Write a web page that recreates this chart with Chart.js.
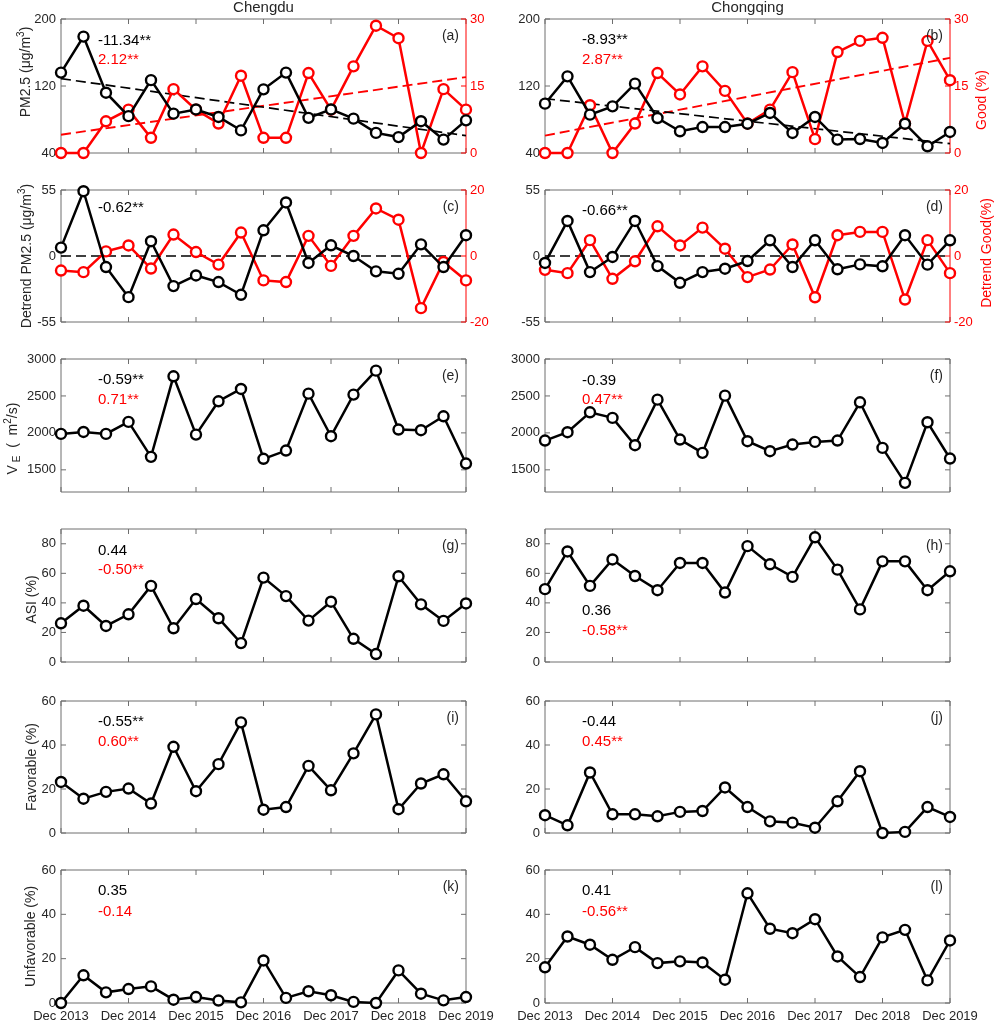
<!DOCTYPE html>
<html>
<head>
<meta charset="utf-8">
<title>Chengdu / Chongqing winter PM2.5</title>
<script src="https://cdn.jsdelivr.net/npm/chart.js@4.4.0/dist/chart.umd.min.js"></script>
<style>
  html, body { margin: 0; padding: 0; background: #fff; overflow: hidden; }
  #wrap { position: relative; width: 996px; height: 1023px; }
  #wrap canvas { position: absolute; }
</style>
</head>
<body>
<div id="wrap"></div>
<script>
// winter months (DJF), Dec 2013 .. Dec 2019
const months = ['Dec 2013', 'Jan 2014', 'Feb 2014', 'Dec 2014', 'Jan 2015', 'Feb 2015',
  'Dec 2015', 'Jan 2016', 'Feb 2016', 'Dec 2016', 'Jan 2017', 'Feb 2017',
  'Dec 2017', 'Jan 2018', 'Feb 2018', 'Dec 2018', 'Jan 2019', 'Feb 2019', 'Dec 2019'];

// Chengdu
const cdPm25 = [136, 179, 112, 84, 127, 87, 92, 83, 67, 116, 136, 82, 92, 81, 64, 59, 78, 56, 79];
const cdGood = [0, 0, 7.1, 9.7, 3.4, 14.3, 9.7, 6.6, 17.3, 3.4, 3.4, 17.9, 9.7, 19.4, 28.5, 25.7, 0, 14.3, 9.7];
const cdPmTrend = [128.8, 60.7];   // first / last month
const cdGoodTrend = [4.1, 17.0];
const cdDetPm = [7.0, 54.0, -9.2, -34.3, 12.3, -25.1, -16.2, -21.7, -32.3, 21.4, 44.6, -5.8, 8.9, 0, -12.8, -14.8, 9.7, -9.2, 17.3];
const cdDetGood = [-4.4, -4.9, 1.4, 3.2, -3.8, 6.5, 1.2, -2.6, 7.1, -7.4, -7.9, 6.1, -3.0, 6.1, 14.4, 11.0, -15.8, -1.8, -7.4];
const cdVe = [1986, 2013, 1986, 2149, 1676, 2766, 1977, 2428, 2595, 1649, 1761, 2531, 1955, 2518, 2842, 2045, 2036, 2225, 1585];
const cdAsi = [26.2, 38.1, 24.4, 32.3, 51.5, 22.8, 42.6, 29.6, 12.8, 57.1, 44.6, 28.0, 40.8, 15.7, 5.4, 58.0, 39.0, 27.8, 39.6];
const cdFav = [23.2, 15.6, 18.7, 20.2, 13.4, 39.2, 19.0, 31.3, 50.3, 10.6, 11.8, 30.5, 19.4, 36.2, 53.9, 10.8, 22.5, 26.7, 14.4];
const cdUnfav = [0, 12.5, 4.8, 6.3, 7.5, 1.5, 2.7, 1.1, 0.3, 19.2, 2.3, 5.3, 3.5, 0.5, 0, 14.7, 4.2, 1.2, 2.7];

// Chongqing
const cqPm25 = [98.9, 131.5, 85.8, 95.7, 122.8, 81.8, 65.9, 71.0, 71.0, 75.0, 87.8, 63.9, 83.0, 56.0, 56.7, 52.0, 75.0, 48.0, 65.1];
const cqGood = [0, 0, 10.7, 0, 6.6, 17.9, 13.1, 19.4, 13.9, 6.6, 9.7, 18.1, 3.1, 22.6, 25.1, 25.8, 6.6, 25.1, 16.3];
const cqPmTrend = [104.9, 51.1];
const cqGoodTrend = [3.9, 21.3];
const cqDetPm = [-5.8, 29.2, -13.4, -0.8, 29.2, -8.4, -22.3, -13.4, -10.6, -4.2, 13.1, -9.2, 13.1, -11.1, -7.0, -8.6, 17.3, -7.2, 13.1];
const cqDetGood = [-4.2, -5.2, 4.8, -6.9, -1.6, 9.0, 3.2, 8.6, 2.2, -6.4, -4.1, 3.5, -12.5, 6.3, 7.3, 7.3, -13.2, 4.8, -5.2];
const cqVe = [1896, 2009, 2279, 2203, 1833, 2450, 1910, 1730, 2504, 1887, 1752, 1842, 1878, 1896, 2414, 1797, 1324, 2144, 1653];
const cqAsi = [49.3, 74.8, 51.5, 69.4, 58.2, 48.6, 67.0, 67.0, 47.0, 78.4, 66.1, 57.6, 84.4, 62.5, 35.6, 68.1, 68.1, 48.6, 61.4];
const cqFav = [8.1, 3.5, 27.5, 8.5, 8.5, 7.6, 9.6, 10.0, 20.7, 11.8, 5.3, 4.7, 2.4, 14.4, 28.1, 0, 0.5, 11.8, 7.3];
const cqUnfav = [16.1, 30.0, 26.3, 19.5, 25.2, 18.0, 18.8, 18.3, 10.5, 49.5, 33.5, 31.5, 37.8, 21.0, 11.7, 29.6, 33.0, 10.2, 28.2];

const zeroLine = [0, 0];

// tick labels
const pmTicks = [40, 120, 200];
const goodTicks = [0, 15, 30];
const detPmTicks = [-55, 0, 55];
const detGoodTicks = [-20, 0, 20];
const veTicks = [1500, 2000, 2500, 3000];
const asiTicks = [0, 20, 40, 60, 80];
const pctTicks = [0, 20, 40, 60];

const BLACK = '#000000', RED = '#ff0000', AXIS = '#6e6e6e', TEXT = '#262626';
const FONT = '"Liberation Sans", Arial, Helvetica, sans-serif';

Chart.defaults.font.family = FONT;
Chart.defaults.font.size = 13;
Chart.defaults.color = TEXT;

// plot boxes in page pixels
const cols = [
  { left: 61, right: 466, canvasLeft: 0, canvasW: 506 },
  { left: 545, right: 950, canvasLeft: 480, canvasW: 516 }
];
const rows = [
  { top: 19, bottom: 153 }, { top: 190, bottom: 322 }, { top: 359, bottom: 492 },
  { top: 529, bottom: 662 }, { top: 701, bottom: 833 }, { top: 870, bottom: 1003 }
];
const PAD_TOP = 18, PAD_BOTTOM = 20, TICK = 5;

const pmTitle = [{ t: 'PM2.5 (\u03bcg/m' }, { t: '3', sup: true }, { t: ')' }];
const detPmTitle = [{ t: 'Detrend PM2.5 (\u03bcg/m' }, { t: '3', sup: true }, { t: ')' }];
const veTitle = [{ t: 'V' }, { t: ' E', sub: true }, { t: '  (  m' }, { t: '2', sup: true }, { t: '/s)' }];

const panels = [
  { letter: 'a', col: 0, row: 0, title: 'Chengdu',
    lines: [[cdPm25, BLACK, 'y'], [cdGood, RED, 'y2']],
    trends: [[cdPmTrend, BLACK, 'y'], [cdGoodTrend, RED, 'y2']],
    y: [40, 200, pmTicks], y2: [0, 30, goodTicks],
    stats: [['-11.34**', BLACK, 22], ['2.12**', RED, 41]],
    yTitle: { parts: pmTitle, x: 26, dy: -14 } },
  { letter: 'b', col: 1, row: 0, title: 'Chongqing',
    lines: [[cqPm25, BLACK, 'y'], [cqGood, RED, 'y2']],
    trends: [[cqPmTrend, BLACK, 'y'], [cqGoodTrend, RED, 'y2']],
    y: [40, 200, pmTicks], y2: [0, 30, goodTicks],
    stats: [['-8.93**', BLACK, 21], ['2.87**', RED, 41]],
    y2Title: { parts: [{ t: 'Good (%)' }], x: 502, dy: 14, color: RED } },
  { letter: 'c', col: 0, row: 1,
    lines: [[cdDetPm, BLACK, 'y'], [cdDetGood, RED, 'y2']],
    trends: [[zeroLine, BLACK, 'y']],
    y: [-55, 55, detPmTicks], y2: [-20, 20, detGoodTicks],
    stats: [['-0.62**', BLACK, 18]],
    yTitle: { parts: detPmTitle, x: 27, dy: 0 } },
  { letter: 'd', col: 1, row: 1,
    lines: [[cqDetPm, BLACK, 'y'], [cqDetGood, RED, 'y2']],
    trends: [[zeroLine, BLACK, 'y']],
    y: [-55, 55, detPmTicks], y2: [-20, 20, detGoodTicks],
    stats: [['-0.66**', BLACK, 21]],
    y2Title: { parts: [{ t: 'Detrend Good(%)' }], x: 507, dy: -3, color: RED } },
  { letter: 'e', col: 0, row: 2,
    lines: [[cdVe, BLACK, 'y']], y: [1200, 3000, veTicks],
    stats: [['-0.59**', BLACK, 21], ['0.71**', RED, 41]],
    yTitle: { parts: veTitle, x: 13, dy: 13 } },
  { letter: 'f', col: 1, row: 2,
    lines: [[cqVe, BLACK, 'y']], y: [1200, 3000, veTicks],
    stats: [['-0.39', BLACK, 22], ['0.47**', RED, 41]] },
  { letter: 'g', col: 0, row: 3,
    lines: [[cdAsi, BLACK, 'y']], y: [0, 90, asiTicks],
    stats: [['0.44', BLACK, 22], ['-0.50**', RED, 41]],
    yTitle: { parts: [{ t: 'ASI (%)' }], x: 32, dy: 4 } },
  { letter: 'h', col: 1, row: 3,
    lines: [[cqAsi, BLACK, 'y']], y: [0, 90, asiTicks],
    stats: [['0.36', BLACK, 82], ['-0.58**', RED, 102]] },
  { letter: 'i', col: 0, row: 4,
    lines: [[cdFav, BLACK, 'y']], y: [0, 60, pctTicks],
    stats: [['-0.55**', BLACK, 21], ['0.60**', RED, 41]],
    yTitle: { parts: [{ t: 'Favorable (%)' }], x: 32, dy: 0 } },
  { letter: 'j', col: 1, row: 4,
    lines: [[cqFav, BLACK, 'y']], y: [0, 60, pctTicks],
    stats: [['-0.44', BLACK, 21], ['0.45**', RED, 41]] },
  { letter: 'k', col: 0, row: 5,
    lines: [[cdUnfav, BLACK, 'y']], y: [0, 60, pctTicks],
    stats: [['0.35', BLACK, 21], ['-0.14', RED, 42]],
    yTitle: { parts: [{ t: 'Unfavorable (%)' }], x: 31, dy: 0 } },
  { letter: 'l', col: 1, row: 5,
    lines: [[cqUnfav, BLACK, 'y']], y: [0, 60, pctTicks],
    stats: [['0.41', BLACK, 21], ['-0.56**', RED, 42]] }
];

function drawRich(ctx, parts, x, y, color) {
  const fontFor = p => (p.sup || p.sub ? 10 : 14) + 'px ' + FONT;
  ctx.save();
  ctx.translate(x, y);
  ctx.rotate(-Math.PI / 2);
  ctx.fillStyle = color;
  ctx.textBaseline = 'middle';
  ctx.textAlign = 'left';
  let total = 0;
  parts.forEach(p => { ctx.font = fontFor(p); total += ctx.measureText(p.t).width; });
  let cx = -total / 2;
  parts.forEach(p => {
    ctx.font = fontFor(p);
    ctx.fillText(p.t, cx, p.sup ? -5 : p.sub ? 4 : 0);
    cx += ctx.measureText(p.t).width;
  });
  ctx.restore();
}

// matlab-like box with inward ticks
const framePlugin = {
  id: 'frame',
  beforeDatasetsDraw(chart, args, o) {
    const { ctx, chartArea: a, scales } = chart;
    ctx.save();
    ctx.lineWidth = 1;
    ctx.strokeStyle = AXIS;
    ctx.beginPath();
    ctx.moveTo(a.right, a.top);
    ctx.lineTo(a.left, a.top);
    ctx.lineTo(a.left, a.bottom);
    ctx.lineTo(a.right, a.bottom);
    months.forEach((m, i) => {
      if (!m.startsWith('Dec')) return;
      const x = scales.x.getPixelForValue(i);
      ctx.moveTo(x, a.bottom); ctx.lineTo(x, a.bottom - TICK);
      ctx.moveTo(x, a.top); ctx.lineTo(x, a.top + TICK);
    });
    scales.y.ticks.forEach(t => {
      const y = scales.y.getPixelForValue(t.value);
      ctx.moveTo(a.left, y); ctx.lineTo(a.left + TICK, y);
      if (!o.dual) { ctx.moveTo(a.right, y); ctx.lineTo(a.right - TICK, y); }
    });
    ctx.stroke();
    ctx.strokeStyle = o.dual ? RED : AXIS;
    ctx.beginPath();
    ctx.moveTo(a.right, a.top);
    ctx.lineTo(a.right, a.bottom);
    if (o.dual) {
      scales.y2.ticks.forEach(t => {
        const y = scales.y2.getPixelForValue(t.value);
        ctx.moveTo(a.right, y); ctx.lineTo(a.right - TICK, y);
      });
    }
    ctx.stroke();
    ctx.restore();
  }
};

const labelPlugin = {
  id: 'labels',
  afterDraw(chart, args, o) {
    const { ctx, chartArea: a } = chart;
    ctx.save();
    ctx.textBaseline = 'middle';
    ctx.fillStyle = TEXT;
    ctx.font = '14px ' + FONT;
    ctx.textAlign = 'right';
    ctx.fillText('(' + o.letter + ')', a.right - 7, a.top + 17);
    if (o.title) {
      ctx.textAlign = 'center';
      ctx.font = '15px ' + FONT;
      ctx.fillText(o.title, (a.left + a.right) / 2, a.top - 11);
    }
    ctx.textAlign = 'left';
    ctx.font = '15px ' + FONT;
    o.stats.forEach(([txt, color, dy]) => {
      ctx.fillStyle = color;
      ctx.fillText(txt, a.left + 37, a.top + dy);
    });
    const mid = (a.top + a.bottom) / 2;
    if (o.yTitle) drawRich(ctx, o.yTitle.parts, o.yTitle.x, mid + o.yTitle.dy, TEXT);
    if (o.y2Title) drawRich(ctx, o.y2Title.parts, o.y2Title.x, mid + o.y2Title.dy, o.y2Title.color);
    ctx.restore();
  }
};

function lineDs(data, color, axis) {
  return {
    data, yAxisID: axis, borderColor: color, borderWidth: 2.5, tension: 0,
    pointRadius: 5, pointBorderWidth: 2.4, pointBorderColor: color,
    pointBackgroundColor: '#ffffff', clip: false
  };
}

function trendDs(ends, color, axis) {
  const data = months.map(() => null);
  data[0] = ends[0];
  data[months.length - 1] = ends[1];
  return {
    data, yAxisID: axis, borderColor: color, borderWidth: color === RED ? 1.9 : 1.7,
    borderDash: [10, 5], pointRadius: 0, spanGaps: true, clip: false
  };
}

const wrap = document.getElementById('wrap');

panels.forEach(p => {
  const c = cols[p.col], r = rows[p.row];
  const dual = !!p.y2;
  const bottomRow = p.row === rows.length - 1;
  const W = c.canvasW;
  const H = r.bottom - r.top + PAD_TOP + PAD_BOTTOM;
  const leftW = c.left - c.canvasLeft;
  const rightW = c.canvasLeft + c.canvasW - c.right;

  const canvas = document.createElement('canvas');
  canvas.width = W;
  canvas.height = H;
  canvas.style.left = c.canvasLeft + 'px';
  canvas.style.top = (r.top - PAD_TOP) + 'px';
  canvas.style.width = W + 'px';
  canvas.style.height = H + 'px';
  wrap.appendChild(canvas);

  const datasets = p.lines.map(([d, col, ax]) => lineDs(d, col, ax));
  (p.trends || []).forEach(([d, col, ax]) => datasets.push(trendDs(d, col, ax)));

  const noGrid = { display: false, drawTicks: false };

  new Chart(canvas.getContext('2d'), {
    type: 'line',
    data: { labels: months, datasets },
    options: {
      responsive: false,
      animation: false,
      events: [],
      layout: { padding: { top: PAD_TOP, left: 0, right: 0, bottom: 0 } },
      plugins: {
        legend: { display: false },
        tooltip: { enabled: false },
        frame: { dual },
        labels: { letter: p.letter, title: p.title, stats: p.stats, yTitle: p.yTitle, y2Title: p.y2Title }
      },
      scales: {
        x: {
          type: 'category', offset: false,
          grid: noGrid, border: { display: false },
          ticks: {
            display: bottomRow, autoSkip: false, maxRotation: 0, minRotation: 0, padding: 6,
            color: TEXT, font: { size: 13 },
            callback: (v, i) => months[i].startsWith('Dec') ? months[i] : ''
          },
          afterFit: s => { s.height = PAD_BOTTOM; }
        },
        y: {
          position: 'left', min: p.y[0], max: p.y[1],
          grid: noGrid, border: { display: false },
          ticks: { padding: 5, color: TEXT, font: { size: 13 }, callback: v => String(v) },
          afterBuildTicks: s => { s.ticks = p.y[2].map(v => ({ value: v })); },
          afterFit: s => { s.width = leftW; }
        },
        y2: {
          position: 'right',
          min: dual ? p.y2[0] : 0, max: dual ? p.y2[1] : 1,
          grid: noGrid, border: { display: false },
          ticks: { display: dual, padding: 4, color: RED, font: { size: 13 }, callback: v => String(v) },
          afterBuildTicks: s => { if (dual) s.ticks = p.y2[2].map(v => ({ value: v })); },
          afterFit: s => { s.width = rightW; }
        }
      }
    },
    plugins: [framePlugin, labelPlugin]
  });
});
</script>
</body>
</html>
